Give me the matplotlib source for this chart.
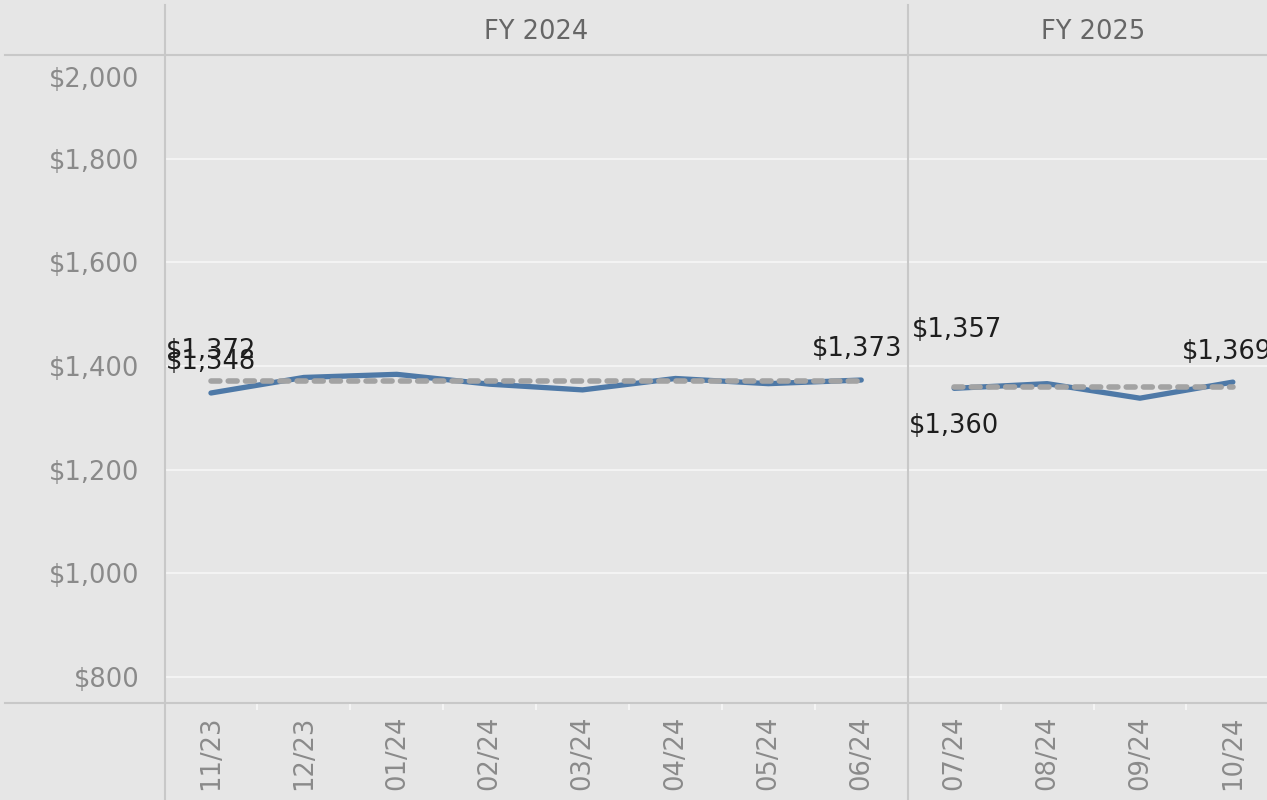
#!/usr/bin/env python3

import numpy as np
import matplotlib.pyplot as plt
from matplotlib.lines import Line2D
from matplotlib.transforms import ScaledTranslation

months_fy24 = ['11/23', '12/23', '01/24', '02/24', '03/24', '04/24', '05/24', '06/24']
months_fy25 = ['07/24', '08/24', '09/24', '10/24']
actual_fy24 = [1348, 1378, 1384, 1365, 1354, 1376, 1366, 1373]
actual_fy25 = [1357, 1366, 1338, 1369]
ref_fy24 = [1372] * 8
ref_fy25 = [1360] * 4
y_ticks = [800, 1000, 1200, 1400, 1600, 1800, 2000]

BG = '#e6e6e6'
BLUE = '#4e79a7'
GREY_DASH = '#a3a3a3'
DIV = '#c8c8c8'
TICK_C = '#8a8a8a'

plt.rcParams['font.family'] = ['DejaVu Sans']

W, H = 1267, 800
fig = plt.figure(figsize=(W / 100, H / 100), dpi=100, facecolor=BG)

# axes spans both panels, right edge runs past the figure like the reference
left_px, right_px = 164.5, 164.5 + 12 * 92.9
top_px, bot_px = 55, 703
ax = fig.add_axes([left_px / W, 1 - bot_px / H, (right_px - left_px) / W, (bot_px - top_px) / H])
ax.set_facecolor(BG)

months = months_fy24 + months_fy25
x24 = np.arange(len(months_fy24))
x25 = np.arange(len(months_fy25)) + len(months_fy24)

ax.set_xlim(-0.5, len(months) - 0.5)
ax.set_ylim(750, 2000)

for s in ax.spines.values():
    s.set_visible(False)

ax.set_yticks(y_ticks)
ax.set_yticklabels(['${:,}'.format(v) for v in y_ticks], fontsize=18.5, color=TICK_C)
ax.yaxis.grid(True, color='#f4f4f4', linewidth=1.4)
ax.set_axisbelow(True)
ax.tick_params(axis='y', length=0, pad=18)
# nudge the top label down inside the pane
top_lab = ax.get_yticklabels()[-1]
top_lab.set_transform(top_lab.get_transform() + ScaledTranslation(0, -0.22, fig.dpi_scale_trans))

ax.set_xticks(np.arange(len(months)))
ax.set_xticklabels(months, rotation=90, fontsize=18.5, color=TICK_C, va='top')
ax.tick_params(axis='x', length=0, pad=9)
ax.set_xticks(np.arange(len(months) - 1) + 0.5, minor=True)
ax.tick_params(axis='x', which='minor', length=5, width=1.5, color='#f4f4f4', direction='out')

# actual lines, then the dashed reference on top, one per panel
for xs, act in [(x24, actual_fy24), (x25, actual_fy25)]:
    ax.plot(xs, act, color=BLUE, linewidth=3.8, solid_capstyle='round', zorder=3)
for xs, ref in [(x24, ref_fy24), (x25, ref_fy25)]:
    ax.plot(xs, ref, color=GREY_DASH, linewidth=4, linestyle=(0, (1.6, 1.5)),
            dash_capstyle='round', zorder=4)

lab_kw = dict(textcoords='offset points', ha='center', va='center', fontsize=18.5,
              color='#1e1e1e', annotation_clip=False, zorder=5)
ax.annotate('${:,}'.format(ref_fy24[0]), (x24[0], ref_fy24[0]), xytext=(0, 21), **lab_kw)
ax.annotate('${:,}'.format(actual_fy24[0]), (x24[0], actual_fy24[0]), xytext=(0, 22), **lab_kw)
ax.annotate('${:,}'.format(actual_fy24[-1]), (x24[-1], actual_fy24[-1]), xytext=(-3, 22), **lab_kw)
ax.annotate('${:,}'.format(actual_fy25[0]), (x25[0], actual_fy25[0]), xytext=(2, 42), **lab_kw)
ax.annotate('${:,}'.format(ref_fy25[0]), (x25[0], ref_fy25[0]), xytext=(0, -28), **lab_kw)
ax.annotate('${:,}'.format(actual_fy25[-1]), (x25[-1], actual_fy25[-1]), xytext=(-4, 22), **lab_kw)

# frame lines of the header / axis rows
def fig_line(x0, y0, x1, y1, lw=1.5):
    fig.add_artist(Line2D([x0 / W, x1 / W], [1 - y0 / H, 1 - y1 / H], color=DIV, linewidth=lw))

fig_line(5, top_px, W, top_px)
fig_line(5, bot_px, W, bot_px)
fig_line(left_px, 5, left_px, H)
div_px = left_px + len(months_fy24) * 92.9
fig_line(div_px, 5, div_px, H)

hdr_kw = dict(ha='center', va='center', fontsize=18.5, color='#666666')
fig.text((left_px + div_px) / 2 / W, 1 - 32 / H, 'FY 2024', **hdr_kw)
fig.text((div_px + right_px) / 2 / W, 1 - 32 / H, 'FY 2025', **hdr_kw)

fig.savefig('out.png', dpi=100, facecolor=BG)
